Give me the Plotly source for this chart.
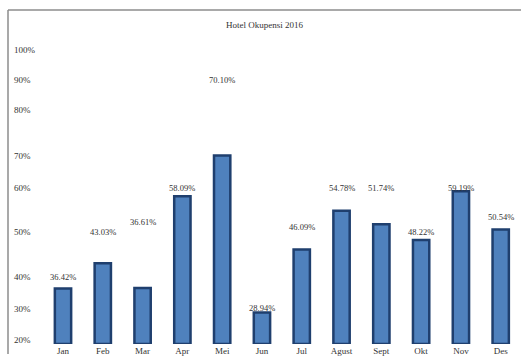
import numpy as np
import plotly.graph_objects as go

# ---- data ----
months = ["Jan", "Feb", "Mar", "Apr", "Mei", "Jun", "Jul", "Agust", "Sept", "Okt", "Nov", "Des"]
occupancy = [36.42, 43.03, 36.61, 58.09, 70.10, 28.94, 46.09, 54.78, 51.74, 48.22, 59.19, 50.54]
label_text = ["36.42%", "43.03%", "36.61%", "58.09%", "70.10%", "28.94%",
              "46.09%", "54.78%", "51.74%", "48.22%", "59.19%", "50.54%"]
tick_values = [20, 30, 40, 50, 60, 70, 80, 90, 100]
tick_labels = ["20%", "30%", "40%", "50%", "60%", "70%", "80%", "90%", "100%"]

# ---- layout of the (irregular) value scale, as in the original ----
scale_values = [18.8] + tick_values
scale_disp = [0, 3.7, 35, 67.7, 113, 157.7, 189.7, 235.7, 266.3, 297]
label_levels = [40, 50, 52.2, 60, 90, 30.3, 51.1, 60, 60, 50, 60, 53.4]


def scale(v):
    return np.interp(v, scale_values, scale_disp)


FONT = "Liberation Serif, Times New Roman, serif"
TXT = "#333333"

fig = go.Figure()
fig.add_trace(go.Bar(
    x=months,
    y=scale(occupancy),
    width=0.41,
    marker=dict(color="#4f81bd", line=dict(color="#1f3f6e", width=2.5)),
    hoverinfo="skip",
))

# value labels
for m, lv, t in zip(months, label_levels, label_text):
    fig.add_annotation(x=m, y=float(scale(lv)), xref="x", yref="y", text=t, showarrow=False,
                       font=dict(family=FONT, size=8.5, color=TXT))

# y tick labels (left aligned inside the frame)
for v, t in zip(tick_values, tick_labels):
    fig.add_annotation(x=0, y=float(scale(v)), xref="paper", yref="y", text=t,
                       xanchor="left", xshift=4, showarrow=False,
                       font=dict(family=FONT, size=9, color=TXT))

# title
fig.add_annotation(x=0.5, y=1 - 8 / 337, xref="paper", yref="paper", text="Hotel Okupensi 2016",
                   showarrow=False, font=dict(family=FONT, size=9, color=TXT))

# border lines (top and left)
fig.add_shape(type="line", xref="paper", yref="paper", x0=0, x1=1, y0=1, y1=1,
              line=dict(color="#8c8c8c", width=1.5))
fig.add_shape(type="line", xref="paper", yref="paper", x0=0, x1=0, y0=-10 / 337, y1=1,
              line=dict(color="#8c8c8c", width=1.5))

fig.update_layout(
    width=521, height=356,
    margin=dict(l=8, r=0, t=10, b=9),
    paper_bgcolor="white", plot_bgcolor="white",
    showlegend=False,
    font=dict(family=FONT, size=9, color=TXT),
    xaxis=dict(type="category", range=[-1.382, 11.51], showgrid=False, showline=False,
               ticks="", tickfont=dict(size=9, color=TXT)),
    yaxis=dict(range=[0, 337], showgrid=False, zeroline=False, showline=False,
               showticklabels=False, ticks=""),
)

fig.write_html("out.html")
